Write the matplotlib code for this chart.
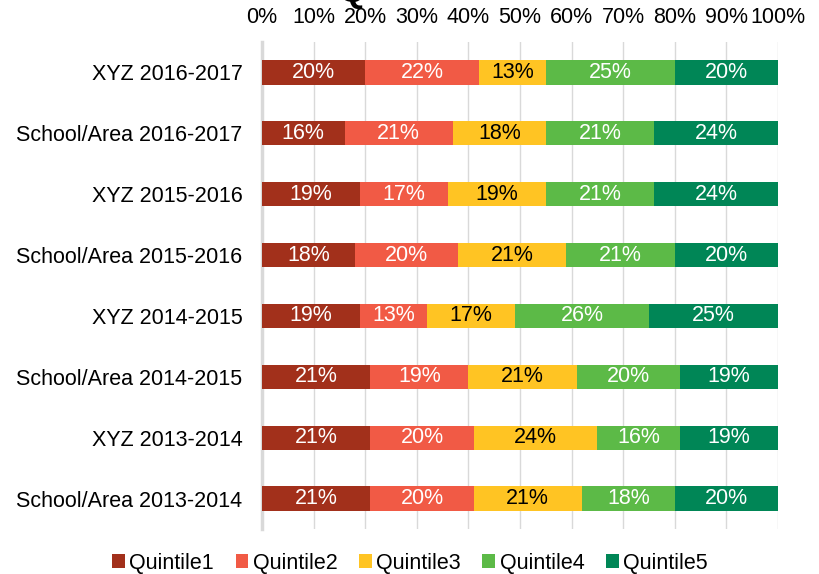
import matplotlib
matplotlib.use("Agg")
import matplotlib.pyplot as plt
import numpy as np

plt.rcParams['font.family'] = ['Liberation Sans', 'DejaVu Sans']

categories = ["XYZ 2016-2017", "School/Area 2016-2017", "XYZ 2015-2016", "School/Area 2015-2016",
              "XYZ 2014-2015", "School/Area 2014-2015", "XYZ 2013-2014", "School/Area 2013-2014"]
series_names = ["Quintile1", "Quintile2", "Quintile3", "Quintile4", "Quintile5"]
q1 = [20, 16, 19, 18, 19, 21, 21, 21]
q2 = [22, 21, 17, 20, 13, 19, 20, 20]
q3 = [13, 18, 19, 21, 17, 21, 24, 21]
q4 = [25, 21, 21, 21, 26, 20, 16, 18]
q5 = [20, 24, 24, 20, 25, 19, 19, 20]
colors = ["#A2301B", "#F15A45", "#FFC423", "#5CBA47", "#008656"]
text_colors = ["white", "white", "black", "white", "white"]
xtick_labels = ["0%", "10%", "20%", "30%", "40%", "50%", "60%", "70%", "80%", "90%", "100%"]

series = [q1, q2, q3, q4, q5]
FS = 15.5

fig = plt.figure(figsize=(8.2, 5.74), dpi=100)
ax = fig.add_axes([262/820, 1 - 529/574, (778-262)/820, (529-42)/574])

y = np.arange(len(categories))
left = np.zeros(len(categories))
for name, vals, c, tc in zip(series_names, series, colors, text_colors):
    vals = np.array(vals, dtype=float)
    ax.barh(y, vals, left=left, height=0.40, color=c, label=name, zorder=3)
    for yi, l, v in zip(y, left, vals):
        ax.text(l + v/2, yi, f"{int(v)}%", ha='center', va='center', color=tc,
                fontsize=FS, zorder=4)
    left += vals

ax.set_xlim(0, 100)
ax.set_ylim(len(categories) - 0.5, -0.5)
ax.set_yticks(y)
ax.set_yticklabels(categories, fontsize=FS)
ax.set_xticks(np.arange(0, 101, 10))
ax.set_xticklabels(xtick_labels, fontsize=FS)
ax.xaxis.tick_top()
ax.tick_params(axis='both', length=0)
ax.tick_params(axis='x', pad=10)
ax.tick_params(axis='y', pad=14)
for s in ['top', 'right', 'bottom']:
    ax.spines[s].set_visible(False)
ax.spines['left'].set_color('#D9D9D9')
ax.spines['left'].set_linewidth(2.5)
ax.grid(axis='x', color='#D9D9D9', linewidth=1, zorder=0)
ax.set_axisbelow(True)

leg = fig.legend(loc='center', bbox_to_anchor=(0.5, 1 - 563/574), ncol=5, frameon=False,
                 fontsize=FS, handlelength=0.6, handleheight=0.6, handletextpad=0.2,
                 columnspacing=1.0)

fig.text(352/820, 1 - 1/574, "Q", fontsize=26, weight='bold', ha='center', va='baseline')

fig.savefig("out.png", dpi=100)
